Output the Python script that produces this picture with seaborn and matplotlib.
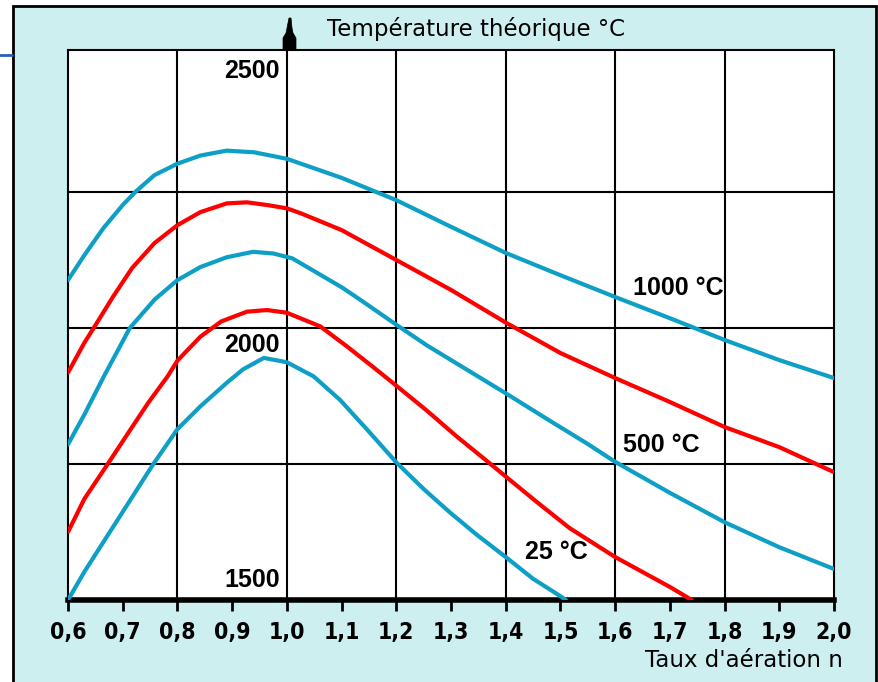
import pandas as pd
import matplotlib.pyplot as plt
import seaborn as sns
from matplotlib.patches import Rectangle, Polygon
from matplotlib.lines import Line2D

# Taux d'aeration n and theoretical temperature for each preheating curve
curve_names = ["1000", "750", "500", "250", "25"]

x_1000 = [0.6, 0.63, 0.665, 0.7, 0.723, 0.758, 0.8, 0.842, 0.89, 0.94, 1.0,
          1.1, 1.2, 1.3, 1.4, 1.5, 1.6, 1.7, 1.8, 1.9, 2.0]
t_1000 = [2088, 2134, 2184, 2226, 2250, 2281, 2302, 2317, 2326, 2323, 2311,
          2276, 2235, 2186, 2138, 2097, 2057, 2018, 1978, 1941, 1908]

x_750 = [0.6, 0.63, 0.647, 0.682, 0.717, 0.758, 0.8, 0.842, 0.89, 0.927, 0.964,
         1.0, 1.025, 1.1, 1.2, 1.3, 1.4, 1.5, 1.6, 1.7, 1.8, 1.9, 2.0]
t_750 = [1918, 1973, 2000, 2057, 2110, 2156, 2189, 2213, 2229, 2231, 2226,
         2220, 2211, 2180, 2125, 2070, 2010, 1954, 1908, 1864, 1818, 1781, 1735]

x_500 = [0.6, 0.63, 0.665, 0.713, 0.758, 0.8, 0.842, 0.89, 0.938, 0.975, 1.01,
         1.1, 1.134, 1.2, 1.256, 1.31, 1.4, 1.475, 1.548, 1.6, 1.7, 1.8, 1.9, 2.0]
t_500 = [1786, 1841, 1910, 2000, 2052, 2088, 2112, 2130, 2140, 2137, 2128,
         2075, 2052, 2006, 1968, 1935, 1880, 1833, 1788, 1754, 1697, 1643, 1597, 1557]

x_250 = [0.6, 0.63, 0.674, 0.712, 0.747, 0.782, 0.8, 0.842, 0.88, 0.927, 0.964,
         1.0, 1.061, 1.11, 1.158, 1.2, 1.256, 1.31, 1.365, 1.4, 1.457, 1.517,
         1.6, 1.7, 1.74]
t_250 = [1625, 1686, 1752, 1810, 1863, 1911, 1940, 1984, 2012, 2030, 2033,
         2028, 2003, 1966, 1928, 1894, 1848, 1801, 1756, 1727, 1680, 1632,
         1579, 1524, 1500]

x_25 = [0.6, 0.63, 0.665, 0.7, 0.756, 0.8, 0.842, 0.891, 0.92, 0.958, 1.0,
        1.049, 1.097, 1.146, 1.2, 1.25, 1.298, 1.347, 1.4, 1.45, 1.5, 1.51]
t_25 = [1500, 1552, 1607, 1662, 1750, 1814, 1856, 1900, 1924, 1945, 1937,
        1911, 1868, 1814, 1753, 1704, 1661, 1620, 1579, 1539, 1507, 1500]

x_ticks = [0.6, 0.7, 0.8, 0.9, 1.0, 1.1, 1.2, 1.3, 1.4, 1.5, 1.6, 1.7, 1.8, 1.9, 2.0]
x_tick_labels = ["0,6", "0,7", "0,8", "0,9", "1,0", "1,1", "1,2", "1,3", "1,4",
                 "1,5", "1,6", "1,7", "1,8", "1,9", "2,0"]
x_grid = [0.8, 1.0, 1.2, 1.4, 1.6, 1.8]
y_grid = [1750, 2000, 2250]
y_labels = ["1500", "2000", "2500"]
curve_labels = ["1000 °C", "500 °C", "25 °C"]

CYAN = "#0e9fc6"
RED = "#ff0000"

# Build long table
frames = []
for name, xs, ts in zip(curve_names,
                        [x_1000, x_750, x_500, x_250, x_25],
                        [t_1000, t_750, t_500, t_250, t_25]):
    frames.append(pd.DataFrame({"n": xs, "T": ts, "curve": name}))
df = pd.concat(frames, ignore_index=True)

sns.set_style("white")
plt.rcParams["text.color"] = "black"
plt.rcParams["xtick.color"] = "black"

W, H = 879, 682
fig = plt.figure(figsize=(W / 100, H / 100), dpi=100, facecolor="white")


def fx(px):
    return px / W


def fy(py):
    return 1 - py / H


# Patterned frame background
fig.patches.append(Rectangle((fx(13), fy(690)), fx(876) - fx(13), fy(6) - fy(690),
                             transform=fig.transFigure, facecolor="#cdeff0",
                             edgecolor="black", linewidth=2, zorder=-5))
fig.lines.append(Line2D([fx(0), fx(12)], [fy(55), fy(55)], transform=fig.transFigure,
                        color="#2a5fb8", linewidth=2, zorder=-4))

ax = fig.add_axes([fx(68), fy(600), fx(834) - fx(68), fy(50) - fy(600)])
ax.set_facecolor("white")

ax.vlines(x_grid, 1500, 2511, color="black", linewidth=1.5, zorder=1)
ax.hlines(y_grid, 0.6, 2.0, color="black", linewidth=1.5, zorder=1)

sns.lineplot(data=df, x="n", y="T", hue="curve", hue_order=curve_names,
             palette=[CYAN, RED, CYAN, RED, CYAN], linewidth=3, sort=False,
             estimator=None, legend=False, ax=ax, zorder=3)

ax.set_xlim(0.6, 2.0)
ax.set_ylim(1500, 2511)
ax.set_xlabel("")
ax.set_ylabel("")
ax.set_yticks([])
ax.set_xticks(x_ticks)
ax.set_xticklabels(x_tick_labels, fontsize=16.5, fontweight="bold",
                   fontstretch="condensed", family="DejaVu Sans")
ax.tick_params(axis="x", direction="out", length=8, width=2, pad=7, colors="black",
               bottom=True)

for side in ["left", "right", "top"]:
    ax.spines[side].set_linewidth(1.5)
    ax.spines[side].set_color("black")
ax.spines["bottom"].set_linewidth(4)
ax.spines["bottom"].set_color("black")

# Temperature values written inside the grid
bold = dict(fontsize=18, fontweight="bold", color="black",
            family=["Liberation Sans", "DejaVu Sans"])
for lab, ypos in zip(y_labels, [1536, 1969, 2472]):
    ax.text(0.987, ypos, lab, ha="right", va="center", zorder=4, **bold)

for lab, xpos, ypos in zip(curve_labels, [1.633, 1.615, 1.436], [2074, 1785, 1588]):
    ax.text(xpos, ypos, lab, ha="left", va="center", zorder=4, **bold)

# y axis arrow head above x = 1.0
arrow_px = [(289, 18), (291, 18), (292, 28), (293, 33), (296, 38), (296, 50),
            (283, 50), (283, 38), (286, 33), (287, 28)]
fig.patches.append(Polygon([(fx(a), fy(b)) for a, b in arrow_px], closed=True,
                           transform=fig.transFigure, facecolor="black",
                           edgecolor="black", linewidth=0.5, zorder=5))

fig.text(fx(327), fy(36), "Température théorique °C", fontsize=16.5, ha="left",
         va="baseline", color="black", family="DejaVu Sans")
fig.text(fx(843), fy(667), "Taux d'aération n", fontsize=16.5, ha="right",
         va="baseline", color="black", family="DejaVu Sans")

fig.savefig("out.png", dpi=100, facecolor=fig.get_facecolor())
